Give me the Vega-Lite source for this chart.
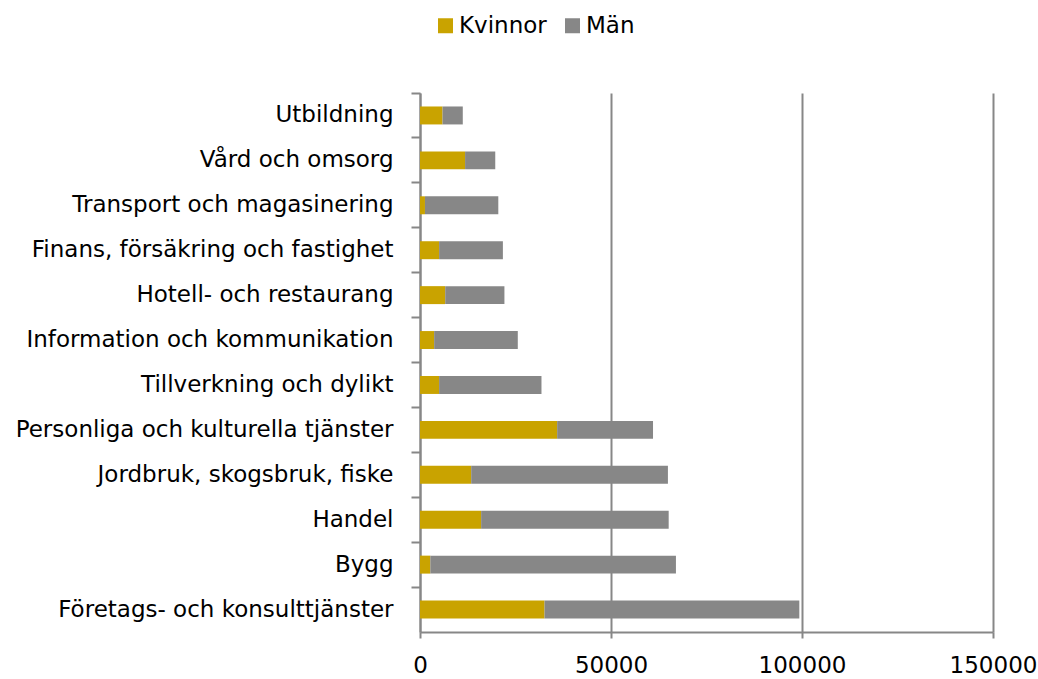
{
  "$schema": "https://vega.github.io/schema/vega-lite/v6.json",
  "autosize": {"type": "none"},
  "width": 573,
  "height": 539,
  "padding": {"left": 420, "top": 93, "right": 45, "bottom": 47},
  "background": "white",
  "config": {
    "font": "DejaVu Sans",
    "view": {"stroke": null}
  },
  "data": {
    "values": [
      {"bransch": "Utbildning", "kon": "Kvinnor", "antal": 5900},
      {"bransch": "Utbildning", "kon": "Män", "antal": 5300},
      {"bransch": "Vård och omsorg", "kon": "Kvinnor", "antal": 11800},
      {"bransch": "Vård och omsorg", "kon": "Män", "antal": 7900},
      {"bransch": "Transport och magasinering", "kon": "Kvinnor", "antal": 1300},
      {"bransch": "Transport och magasinering", "kon": "Män", "antal": 19200},
      {"bransch": "Finans, försäkring och fastighet", "kon": "Kvinnor", "antal": 5000},
      {"bransch": "Finans, försäkring och fastighet", "kon": "Män", "antal": 16700},
      {"bransch": "Hotell- och restaurang", "kon": "Kvinnor", "antal": 6600},
      {"bransch": "Hotell- och restaurang", "kon": "Män", "antal": 15500},
      {"bransch": "Information och kommunikation", "kon": "Kvinnor", "antal": 3700},
      {"bransch": "Information och kommunikation", "kon": "Män", "antal": 21900},
      {"bransch": "Tillverkning och dylikt", "kon": "Kvinnor", "antal": 5000},
      {"bransch": "Tillverkning och dylikt", "kon": "Män", "antal": 26800},
      {"bransch": "Personliga och kulturella tjänster", "kon": "Kvinnor", "antal": 35900},
      {"bransch": "Personliga och kulturella tjänster", "kon": "Män", "antal": 25100},
      {"bransch": "Jordbruk, skogsbruk, fiske", "kon": "Kvinnor", "antal": 13400},
      {"bransch": "Jordbruk, skogsbruk, fiske", "kon": "Män", "antal": 51500},
      {"bransch": "Handel", "kon": "Kvinnor", "antal": 16000},
      {"bransch": "Handel", "kon": "Män", "antal": 49100},
      {"bransch": "Bygg", "kon": "Kvinnor", "antal": 2700},
      {"bransch": "Bygg", "kon": "Män", "antal": 64300},
      {"bransch": "Företags- och konsulttjänster", "kon": "Kvinnor", "antal": 32600},
      {"bransch": "Företags- och konsulttjänster", "kon": "Män", "antal": 66700}
    ]
  },
  "mark": {"type": "bar"},
  "encoding": {
    "y": {
      "field": "bransch",
      "type": "nominal",
      "sort": ["Utbildning", "Vård och omsorg", "Transport och magasinering", "Finans, försäkring och fastighet", "Hotell- och restaurang", "Information och kommunikation", "Tillverkning och dylikt", "Personliga och kulturella tjänster", "Jordbruk, skogsbruk, fiske", "Handel", "Bygg", "Företags- och konsulttjänster"],
      "scale": {"paddingInner": 0.6, "paddingOuter": 0.3},
      "axis": {
        "title": null,
        "bandPosition": -0.75,
        "domainColor": "#878787",
        "domainWidth": 2,
        "tickColor": "#878787",
        "tickWidth": 2,
        "tickSize": 9,
        "labelPadding": 18,
        "labelFont": "DejaVu Sans",
        "labelFontSize": 23,
        "labelLimit": 420,
        "labelColor": "#000000",
        "grid": false
      }
    },
    "x": {
      "field": "antal",
      "type": "quantitative",
      "stack": "zero",
      "scale": {"domain": [0, 150000], "nice": false},
      "axis": {
        "title": null,
        "values": [0, 50000, 100000, 150000],
        "format": "d",
        "labelFlush": false,
        "domainColor": "#878787",
        "domainWidth": 2,
        "tickColor": "#878787",
        "tickWidth": 2,
        "tickSize": 6,
        "labelPadding": 16,
        "labelFont": "DejaVu Sans",
        "labelFontSize": 23,
        "labelColor": "#000000",
        "grid": true,
        "gridColor": "#878787",
        "gridWidth": 2
      }
    },
    "color": {
      "field": "kon",
      "type": "nominal",
      "scale": {"domain": ["Kvinnor", "Män"], "range": ["#C9A300", "#878787"]},
      "legend": {
        "title": null,
        "orient": "none",
        "direction": "horizontal",
        "legendX": 14,
        "legendY": -79,
        "symbolType": "square",
        "symbolSize": 225,
        "symbolStrokeWidth": 0,
        "labelFont": "DejaVu Sans",
        "labelFontSize": 23,
        "labelColor": "#000000",
        "columnPadding": 14,
        "labelOffset": 2
      }
    }
  }
}
